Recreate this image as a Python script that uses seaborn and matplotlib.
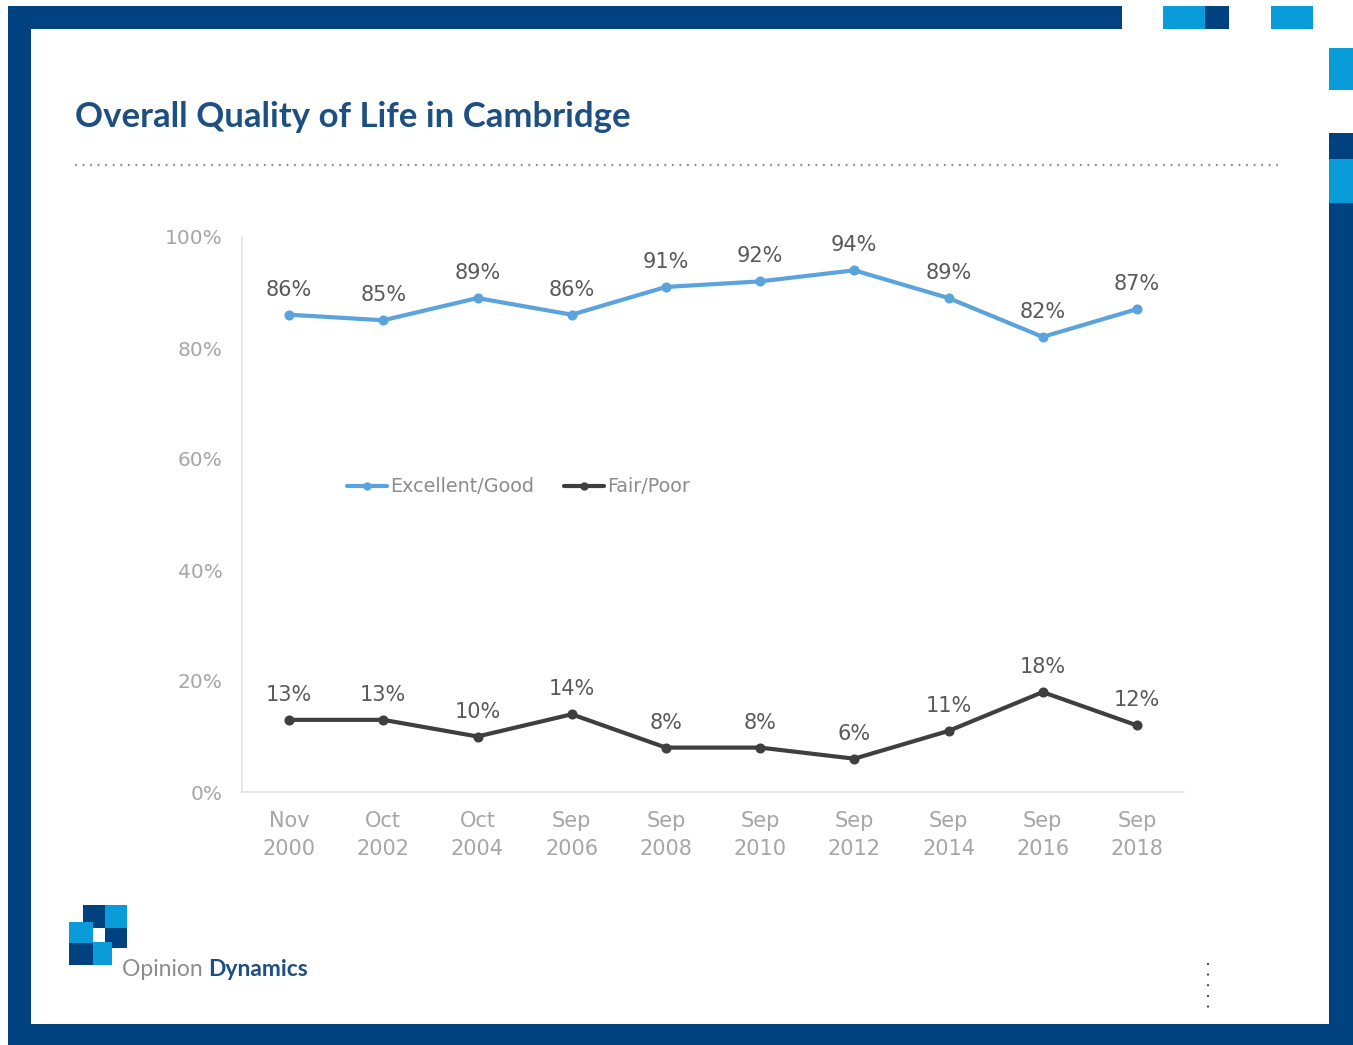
import matplotlib
matplotlib.use("Agg")
import matplotlib.pyplot as plt
from matplotlib.patches import Rectangle
from matplotlib.lines import Line2D
import pandas as pd
import seaborn as sns

# Survey waves and results (% of respondents)
waves = ["Nov\n2000", "Oct\n2002", "Oct\n2004", "Sep\n2006", "Sep\n2008",
         "Sep\n2010", "Sep\n2012", "Sep\n2014", "Sep\n2016", "Sep\n2018"]
excellent_good = [86, 85, 89, 86, 91, 92, 94, 89, 82, 87]
fair_poor = [13, 13, 10, 14, 8, 8, 6, 11, 18, 12]
series_names = ["Excellent/Good", "Fair/Poor"]
y_ticks = [0, 20, 40, 60, 80, 100]

DARK_BLUE = "#00427f"
LIGHT_BLUE = "#0a9bd9"
LINE_BLUE = "#5ba3dc"
LINE_DARK = "#3f3f3f"

sns.set_theme(style="white")
plt.rcParams["font.family"] = ["DejaVu Sans"]

W, H = 1353, 1045
fig = plt.figure(figsize=(W / 100, H / 100), dpi=100)
fig.patch.set_facecolor("white")


def fbox(x0, y0, x1, y1):
    """Pixel box (top-left origin) -> figure-fraction rectangle args."""
    return (x0 / W, 1 - y1 / H), (x1 - x0) / W, (y1 - y0) / H


def block(x0, y0, x1, y1, color):
    xy, w, h = fbox(x0, y0, x1, y1)
    fig.patches.append(Rectangle(xy, w, h, transform=fig.transFigure,
                                 facecolor=color, edgecolor="none", zorder=0))


# Slide frame
block(8, 6, 1122, 29, DARK_BLUE)
block(8, 6, 31, H, DARK_BLUE)
block(8, 1024, W, H, DARK_BLUE)
block(1329, 133, W, H, DARK_BLUE)
block(1329, 159, W, 203, LIGHT_BLUE)
block(1329, 48, W, 90, LIGHT_BLUE)
block(1163, 6, 1205, 29, LIGHT_BLUE)
block(1205, 6, 1229, 29, DARK_BLUE)
block(1271, 6, 1313, 29, LIGHT_BLUE)

# Title and dotted rule
fig.text(75 / W, 1 - 117 / H, "Overall Quality of Life in Cambridge",
         family=["Lato", "DejaVu Sans"], fontweight="bold",
         fontsize=25, color="#1d4f80", va="center", ha="left")
fig.lines.append(Line2D([75 / W, 1278 / W], [1 - 165 / H, 1 - 165 / H],
                        transform=fig.transFigure, color="#8c8c8c",
                        linewidth=1.6, linestyle=(0, (0.8, 2.6))))

# Chart
ax = fig.add_axes([242 / W, 1 - 792 / H, (1184 - 242) / W, (792 - 237) / H])
ax.set_facecolor("none")

df = pd.DataFrame({
    "wave": waves * 2,
    "value": excellent_good + fair_poor,
    "series": [series_names[0]] * len(waves) + [series_names[1]] * len(waves),
})
palette = {series_names[0]: LINE_BLUE, series_names[1]: LINE_DARK}
sns.pointplot(data=df, x="wave", y="value", hue="series", order=waves,
              hue_order=series_names, palette=palette, errorbar=None,
              markers="o", markersize=5, linewidth=3, dodge=False, ax=ax)

for vals in (excellent_good, fair_poor):
    for i, v in enumerate(vals):
        ax.annotate(f"{v}%", (i, v), xytext=(0, 18), textcoords="offset points",
                    ha="center", va="center", fontsize=15, color="#595959")

ax.set_xlim(-0.5, len(waves) - 0.5)
ax.set_ylim(0, 100)
ax.set_yticks(y_ticks)
ax.set_yticklabels([f"{t}%" for t in y_ticks])
ax.set_xlabel("")
ax.set_ylabel("")
ax.tick_params(axis="y", length=0, pad=14, labelsize=14.5, labelcolor="#a6a6a6")
ax.tick_params(axis="x", length=0, pad=14, labelsize=15, labelcolor="#a6a6a6")
for lbl in ax.get_xticklabels():
    lbl.set_linespacing(1.45)
for side in ("top", "right"):
    ax.spines[side].set_visible(False)
for side in ("left", "bottom"):
    ax.spines[side].set_color("#e3e3e3")
    ax.spines[side].set_linewidth(1.2)

handles = [Line2D([], [], color=LINE_BLUE, linewidth=3, marker="o", markersize=5),
           Line2D([], [], color=LINE_DARK, linewidth=3, marker="o", markersize=5)]
leg = ax.legend(handles, series_names, loc="center left",
                bbox_to_anchor=(0.093, 0.55), frameon=False, ncol=2,
                handlelength=2.1, handletextpad=0.15, columnspacing=1.55,
                fontsize=13.8)
for t in leg.get_texts():
    t.set_color("#8c8c8c")

# Company mark
block(83, 905, 105, 928, DARK_BLUE)
block(105, 905, 127, 928, LIGHT_BLUE)
block(69, 922, 93, 943, LIGHT_BLUE)
block(105, 928, 127, 948, DARK_BLUE)
block(69, 943, 93, 965, DARK_BLUE)
block(93, 942, 112, 965, LIGHT_BLUE)
t1 = fig.text(122 / W, 1 - 969 / H, "Opinion ", fontsize=16.5, color="#8c8c8c",
              va="center", ha="left", family=["Lato", "DejaVu Sans"])
fig.canvas.draw()
bb = t1.get_window_extent()
fig.text(bb.x1 / W, 1 - 969 / H, "Dynamics", fontsize=16.5, color="#1d4f80",
         fontweight="bold", va="center", ha="left",
         family=["Lato", "DejaVu Sans"])

fig.lines.append(Line2D([1208 / W, 1208 / W], [1 - 963 / H, 1 - 1012 / H],
                        transform=fig.transFigure, color="#444444",
                        linewidth=1.6, linestyle=(0, (0.8, 4.0))))

fig.savefig("out.png", dpi=100, facecolor="white")
